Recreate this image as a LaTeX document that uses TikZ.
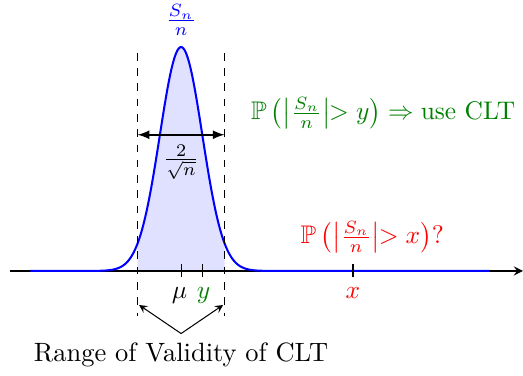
\documentclass[tikz,border=0pt]{standalone}
\usepackage{amsmath,amssymb}
\usetikzlibrary{arrows}
\begin{document}
\begin{tikzpicture}

  \useasboundingbox (-2.50,-1.45) rectangle (4.72,3.74);

  % shaded range under the density
  \fill[blue!12] (-0.6,0) -- plot[domain=-0.6:0.6,samples=60] (\x,{3.09*exp(-\x*\x/0.172)}) -- (0.6,0) -- cycle;

  \coordinate (A0) at (-2.36,0);
  \coordinate (A1) at (4.72,0);
  \draw[semithick,-stealth] (A0) -- (A1);

  \draw[blue,thick] (-2.08,0) -- (-1.2,0) -- plot[domain=-1.2:1.2,samples=120] (\x,{3.09*exp(-\x*\x/0.172)}) -- (4.26,0);

  \node[blue] (SN) at (0,3.46) {$\frac{S_n}{n}$};

  % validity range
  \coordinate (LT) at (-0.6,3.01);
  \coordinate (LB) at (-0.6,-0.62);
  \coordinate (RT) at (0.6,3.01);
  \coordinate (RB) at (0.6,-0.62);
  \draw[dashed] (LT) -- (LB);
  \draw[dashed] (RT) -- (RB);

  \coordinate (WL) at (-0.6,1.88);
  \coordinate (WR) at (0.6,1.88);
  \draw[semithick,latex-latex] (WL) -- (WR);
  \node (W) at (0,1.50) {$\frac{2}{\sqrt{n}}$};

  % ticks
  \coordinate (MU) at (0,0);
  \coordinate (Y) at (0.29,0);
  \coordinate (X) at (2.37,0);
  \draw ([yshift=-0.09cm]MU) -- ([yshift=0.09cm]MU);
  \draw ([yshift=-0.09cm]Y) -- ([yshift=0.09cm]Y);
  \draw[semithick] ([yshift=-0.09cm]X) -- ([yshift=0.09cm]X);
  \node (MUl) at (-0.02,-0.34) {$\mu$};
  \node[green!50!black] (Yl) at (0.31,-0.34) {$y$};
  \node[red] (Xl) at (2.37,-0.31) {$x$};

  \node[green!50!black] (CLT) at (2.79,2.18) {$\mathbb{P}\left(\left|\frac{S_n}{n}\right|\!\!> y\right) \Rightarrow \text{use CLT}$};
  \node[red] (Q) at (2.64,0.47) {$\mathbb{P}\left(\left|\frac{S_n}{n}\right|\!\!> x\right)?$};

  \node[scale=1.04] (R) at (0,-1.16) {Range of Validity of CLT};
  \coordinate (RL) at (-0.58,-0.47);
  \coordinate (RR) at (0.58,-0.47);
  \draw[-stealth] (R.north) -- (RL);
  \draw[-stealth] (R.north) -- (RR);

\end{tikzpicture}
\end{document}
